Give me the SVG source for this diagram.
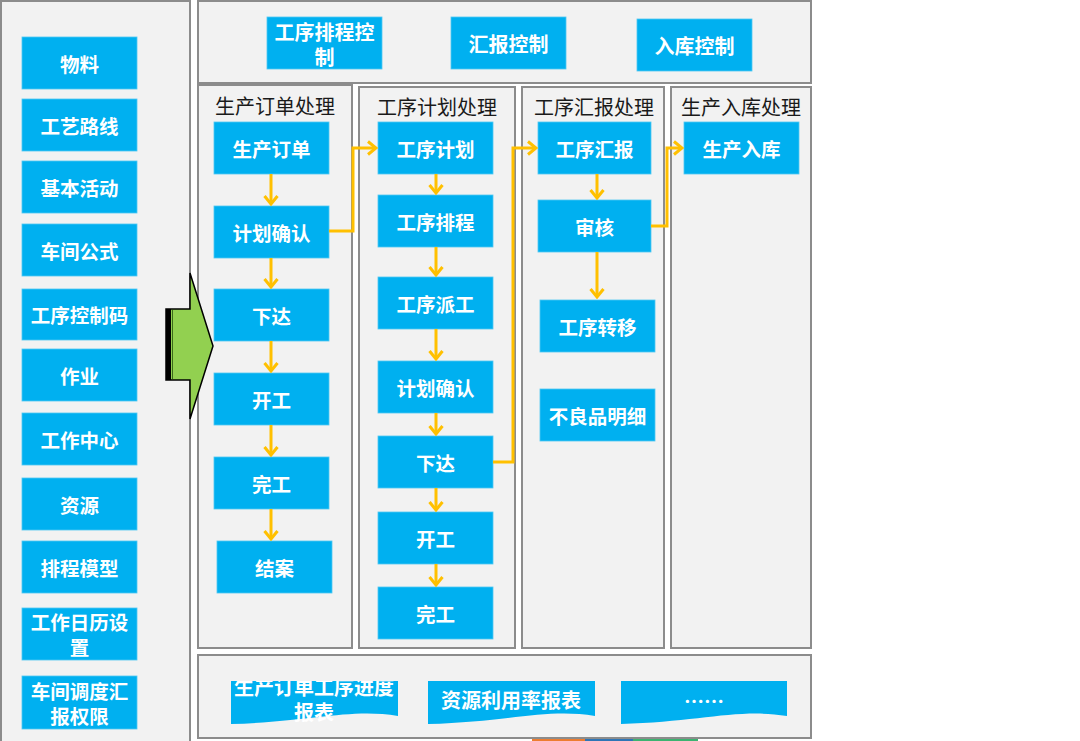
<svg xmlns="http://www.w3.org/2000/svg" width="1080" height="741" viewBox="0 0 1080 741">
<style>
.panel{fill:#f2f2f2;stroke:#8c8c8c;stroke-width:2}
.box{fill:#00b0f0;stroke:#4fc8f2;stroke-width:0.8}
.bt{fill:#fff;font-family:"Noto Sans CJK SC","Noto Sans",sans-serif;font-weight:bold;font-size:19.5px;text-anchor:middle;dominant-baseline:central}
.ht{fill:#1a1a1a;font-family:"Noto Sans CJK SC","Noto Sans",sans-serif;font-size:20px;text-anchor:middle;dominant-baseline:central}
.con{fill:none;stroke:#ffc000;stroke-width:3;marker-end:url(#ah)}
</style>
<defs>
<marker id="ah" markerUnits="userSpaceOnUse" viewBox="0 0 12 16" refX="10" refY="8" markerWidth="12" markerHeight="16" orient="auto">
<path d="M2,1.5 L10,8 L2,14.5" fill="none" stroke="#ffc000" stroke-width="3"/>
</marker>
<clipPath id="docclip"><rect x="220" y="681" width="190" height="50"/></clipPath>
</defs>
<rect width="1080" height="741" fill="#fff"/>

<g id="left-panel">
<rect class="panel" x="1" y="1" width="189" height="760"/>
</g>
<g id="top-panel">
<rect class="panel" x="198" y="1" width="613" height="82"/>
</g>
<g id="col1"><rect class="panel" x="198" y="85" width="154" height="563"/><text class="ht" x="275" y="105">生产订单处理</text></g>
<g id="col2"><rect class="panel" x="359" y="87" width="156" height="561"/><text class="ht" x="437" y="106">工序计划处理</text></g>
<g id="col3"><rect class="panel" x="522" y="87" width="142" height="561"/><text class="ht" x="594" y="106">工序汇报处理</text></g>
<g id="col4"><rect class="panel" x="671" y="87" width="140" height="561"/><text class="ht" x="741" y="106">生产入库处理</text></g>
<g id="bottom-panel">
<rect class="panel" x="198" y="655" width="613" height="83"/>
</g>
<g id="strip">
<rect x="532" y="739" width="53" height="2" fill="#ed7d31"/>
<rect x="585" y="739" width="48" height="2" fill="#2e75b6"/>
<rect x="633" y="739" width="65" height="2" fill="#3cb371"/>
</g>

<!-- left boxes -->
<g id="n-wuliao"><rect class="box" x="22" y="37" width="115" height="52"/><text class="bt" x="79.5" y="63">物料</text></g>
<g id="n-gylx"><rect class="box" x="22" y="99" width="115" height="52"/><text class="bt" x="79.5" y="125">工艺路线</text></g>
<g id="n-jbhd"><rect class="box" x="22" y="161" width="115" height="52"/><text class="bt" x="79.5" y="187">基本活动</text></g>
<g id="n-cjgs"><rect class="box" x="22" y="224" width="115" height="52"/><text class="bt" x="79.5" y="250">车间公式</text></g>
<g id="n-gxkzm"><rect class="box" x="22" y="289" width="115" height="51"/><text class="bt" x="79.5" y="314">工序控制码</text></g>
<g id="n-zuoye"><rect class="box" x="22" y="349" width="115" height="52"/><text class="bt" x="79.5" y="375">作业</text></g>
<g id="n-gzzx"><rect class="box" x="22" y="413" width="115" height="52"/><text class="bt" x="79.5" y="439">工作中心</text></g>
<g id="n-ziyuan"><rect class="box" x="22" y="478" width="115" height="52"/><text class="bt" x="79.5" y="504">资源</text></g>
<g id="n-pcmx"><rect class="box" x="22" y="541" width="115" height="52"/><text class="bt" x="79.5" y="567">排程模型</text></g>
<g id="n-gzrl"><rect class="box" x="22" y="608" width="115" height="52"/><text class="bt" x="79.5" y="621">工作日历设</text><text class="bt" x="79.5" y="646">置</text></g>
<g id="n-cjdd"><rect class="box" x="22" y="676" width="115" height="53"/><text class="bt" x="79.5" y="690">车间调度汇</text><text class="bt" x="79.5" y="715">报权限</text></g>

<!-- green arrow -->
<g id="big-arrow">
<polygon points="166,309 190,309 190,273 213,346 190,419 190,380 166,380" fill="#92d050" stroke="#000" stroke-width="1.5"/>
<rect x="166" y="309" width="5" height="71" fill="#000"/>
<line x1="172.5" y1="310" x2="172.5" y2="379" stroke="#3a6a1a" stroke-width="1"/>
</g>

<!-- top boxes -->
<g id="n-gxpckz"><rect class="box" x="267" y="17" width="115" height="52"/><text class="bt" x="324.5" y="31" style="font-size:20px">工序排程控</text><text class="bt" x="324.5" y="56" style="font-size:20px">制</text></g>
<g id="n-hbkz"><rect class="box" x="451" y="17" width="115" height="52"/><text class="bt" x="508.5" y="43" style="font-size:20px">汇报控制</text></g>
<g id="n-rkkz"><rect class="box" x="637" y="19" width="115" height="52"/><text class="bt" x="694.5" y="45" style="font-size:20px">入库控制</text></g>

<!-- col1 -->
<g id="n-scdd"><rect class="box" x="214" y="122" width="115" height="52"/><text class="bt" x="271.5" y="148">生产订单</text></g>
<g id="n-jhqr1"><rect class="box" x="214" y="206" width="115" height="52"/><text class="bt" x="271.5" y="232">计划确认</text></g>
<g id="n-xd1"><rect class="box" x="214" y="289" width="115" height="52"/><text class="bt" x="271.5" y="315">下达</text></g>
<g id="n-kg1"><rect class="box" x="214" y="373" width="115" height="52"/><text class="bt" x="271.5" y="399">开工</text></g>
<g id="n-wg1"><rect class="box" x="214" y="457" width="115" height="52"/><text class="bt" x="271.5" y="483">完工</text></g>
<g id="n-ja"><rect class="box" x="217" y="541" width="115" height="52"/><text class="bt" x="274.5" y="567">结案</text></g>

<!-- col2 -->
<g id="n-gxjh"><rect class="box" x="378" y="122" width="115" height="52"/><text class="bt" x="435.5" y="148">工序计划</text></g>
<g id="n-gxpc"><rect class="box" x="378" y="195" width="115" height="52"/><text class="bt" x="435.5" y="221">工序排程</text></g>
<g id="n-gxpg"><rect class="box" x="378" y="277" width="115" height="52"/><text class="bt" x="435.5" y="303">工序派工</text></g>
<g id="n-jhqr2"><rect class="box" x="378" y="361" width="115" height="52"/><text class="bt" x="435.5" y="387">计划确认</text></g>
<g id="n-xd2"><rect class="box" x="378" y="436" width="115" height="52"/><text class="bt" x="435.5" y="462">下达</text></g>
<g id="n-kg2"><rect class="box" x="378" y="512" width="115" height="52"/><text class="bt" x="435.5" y="538">开工</text></g>
<g id="n-wg2"><rect class="box" x="378" y="587" width="115" height="52"/><text class="bt" x="435.5" y="613">完工</text></g>

<!-- col3 -->
<g id="n-gxhb"><rect class="box" x="538" y="122" width="113" height="52"/><text class="bt" x="594.5" y="148">工序汇报</text></g>
<g id="n-sh"><rect class="box" x="538" y="200" width="113" height="52"/><text class="bt" x="594.5" y="226">审核</text></g>
<g id="n-gxzy"><rect class="box" x="540" y="300" width="115" height="52"/><text class="bt" x="597.5" y="326">工序转移</text></g>
<g id="n-blp"><rect class="box" x="540" y="389" width="115" height="52"/><text class="bt" x="597.5" y="415">不良品明细</text></g>

<!-- col4 -->
<g id="n-scrk"><rect class="box" x="684" y="122" width="115" height="52"/><text class="bt" x="741.5" y="148">生产入库</text></g>

<!-- bottom docs -->
<g id="n-doc1">
<path class="box" d="M231,681 H398 V716 C350,708 310,722 231,724 Z" style="stroke:none"/>
<g clip-path="url(#docclip)"><text class="bt" x="314" y="686" style="font-size:20px">生产订单工序进度</text></g>
<text class="bt" x="314" y="711" style="font-size:20px">报表</text>
</g>
<g id="n-doc2">
<path class="box" d="M428,681 H595 V716 C547,708 507,722 428,724 Z" style="stroke:none"/>
<text class="bt" x="511" y="699" style="font-size:20px">资源利用率报表</text>
</g>
<g id="n-doc3">
<path class="box" d="M621,681 H787 V716 C739,708 699,722 621,724 Z" style="stroke:none"/>
<text class="bt" x="704" y="700" style="font-size:20px">……</text>
</g>

<g id="connectors">
<path class="con" d="M271,174 V204"/>
<path class="con" d="M271,258 V287"/>
<path class="con" d="M271,341 V371"/>
<path class="con" d="M271,425 V455"/>
<path class="con" d="M271,509 V539"/>
<path class="con" d="M436,174 V193"/>
<path class="con" d="M436,247 V275"/>
<path class="con" d="M436,329 V359"/>
<path class="con" d="M436,413 V434"/>
<path class="con" d="M436,488 V510"/>
<path class="con" d="M436,564 V585"/>
<path class="con" d="M597,174 V198"/>
<path class="con" d="M597,252 V297"/>
<path class="con" d="M329,231 H353 V148 H376"/>
<path class="con" d="M493,462 H513 V148 H536"/>
<path class="con" d="M651,226 H667 V148 H682"/>
</g>
</svg>
